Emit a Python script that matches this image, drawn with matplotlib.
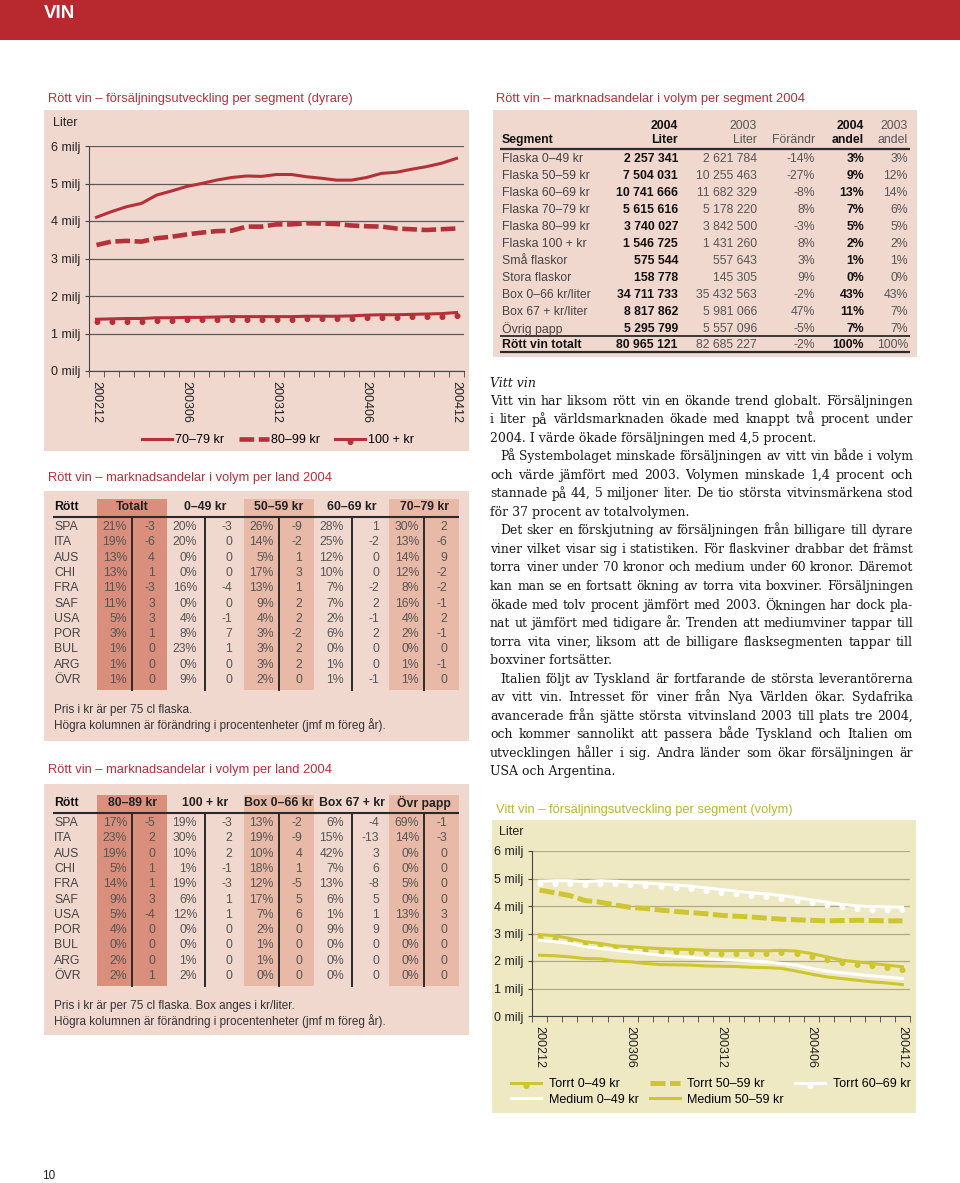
import numpy as np
import matplotlib
matplotlib.use('Agg')
import matplotlib.pyplot as plt
from matplotlib.patches import Rectangle
from matplotlib.path import Path

# ---------------- data ----------------
months = ['200212', '200301', '200302', '200303', '200304', '200305', '200306',
          '200307', '200308', '200309', '200310', '200311', '200312',
          '200401', '200402', '200403', '200404', '200405', '200406',
          '200407', '200408', '200409', '200410', '200411', '200412']

# rött vin, miljoner liter
rott_70_79 = [4.10, 4.25, 4.38, 4.47, 4.69, 4.80, 4.92, 5.00, 5.09, 5.16, 5.20, 5.19,
              5.24, 5.24, 5.18, 5.14, 5.09, 5.09, 5.16, 5.27, 5.30, 5.38, 5.45, 5.54, 5.67]
rott_80_99 = [3.36, 3.45, 3.47, 3.45, 3.54, 3.58, 3.64, 3.69, 3.73, 3.74, 3.85, 3.85,
              3.91, 3.91, 3.94, 3.93, 3.92, 3.88, 3.86, 3.85, 3.80, 3.78, 3.76, 3.78, 3.80]
rott_100 = [1.38, 1.39, 1.40, 1.40, 1.42, 1.42, 1.43, 1.43, 1.44, 1.45, 1.45, 1.45,
            1.45, 1.45, 1.46, 1.46, 1.46, 1.47, 1.49, 1.50, 1.50, 1.51, 1.52, 1.53, 1.56]

# vitt vin, miljoner liter
torrt_0_49 = [2.96, 2.92, 2.82, 2.70, 2.64, 2.55, 2.52, 2.48, 2.45, 2.43, 2.42, 2.39,
              2.38, 2.38, 2.38, 2.37, 2.39, 2.36, 2.27, 2.15, 2.03, 1.97, 1.91, 1.85, 1.79]
torrt_50_59 = [4.58, 4.48, 4.38, 4.20, 4.14, 4.04, 3.95, 3.91, 3.85, 3.80, 3.76, 3.72,
               3.66, 3.63, 3.60, 3.56, 3.52, 3.50, 3.48, 3.46, 3.47, 3.48, 3.47, 3.46, 3.46]
torrt_60_69 = [4.90, 4.92, 4.92, 4.88, 4.92, 4.90, 4.86, 4.84, 4.80, 4.76, 4.72, 4.66,
               4.60, 4.54, 4.48, 4.44, 4.38, 4.30, 4.22, 4.14, 4.06, 4.00, 3.98, 3.97, 3.96]
medium_0_49 = [2.76, 2.70, 2.64, 2.52, 2.46, 2.39, 2.33, 2.27, 2.21, 2.17, 2.13, 2.09,
               2.05, 2.03, 2.00, 1.97, 1.91, 1.85, 1.73, 1.63, 1.57, 1.51, 1.46, 1.41, 1.36]
medium_50_59 = [2.21, 2.19, 2.15, 2.09, 2.08, 2.00, 1.97, 1.91, 1.87, 1.86, 1.85, 1.82,
                1.81, 1.80, 1.77, 1.76, 1.73, 1.63, 1.52, 1.42, 1.36, 1.30, 1.24, 1.20, 1.14]

# marknadsandelar per segment
segments = ['Flaska 0–49 kr', 'Flaska 50–59 kr', 'Flaska 60–69 kr', 'Flaska 70–79 kr',
            'Flaska 80–99 kr', 'Flaska 100 + kr', 'Små flaskor', 'Stora flaskor',
            'Box 0–66 kr/liter', 'Box 67 + kr/liter', 'Övrig papp']
liter_2004 = [2257341, 7504031, 10741666, 5615616, 3740027, 1546725, 575544, 158778,
              34711733, 8817862, 5295799]
liter_2003 = [2621784, 10255463, 11682329, 5178220, 3842500, 1431260, 557643, 145305,
              35432563, 5981066, 5557096]
forandr = [-14, -27, -8, 8, -3, 8, 3, 9, -2, 47, -5]
andel_2004 = [3, 9, 13, 7, 5, 2, 1, 0, 43, 11, 7]
andel_2003 = [3, 12, 14, 6, 5, 2, 1, 0, 43, 7, 7]
totalt_2004, totalt_2003, totalt_forandr = 80965121, 82685227, -2

# marknadsandelar per land
lander = ['SPA', 'ITA', 'AUS', 'CHI', 'FRA', 'SAF', 'USA', 'POR', 'BUL', 'ARG', 'ÖVR']
tab1_heads = ['Totalt', '0–49 kr', '50–59 kr', '60–69 kr', '70–79 kr']
tab1_pct = [[21, 19, 13, 13, 11, 11, 5, 3, 1, 1, 1],
            [20, 20, 0, 0, 16, 0, 4, 8, 23, 0, 9],
            [26, 14, 5, 17, 13, 9, 4, 3, 3, 3, 2],
            [28, 25, 12, 10, 7, 7, 2, 6, 0, 1, 1],
            [30, 13, 14, 12, 8, 16, 4, 2, 0, 1, 1]]
tab1_chg = [[-3, -6, 4, 1, -3, 3, 3, 1, 0, 0, 0],
            [-3, 0, 0, 0, -4, 0, -1, 7, 1, 0, 0],
            [-9, -2, 1, 3, 1, 2, 2, -2, 2, 2, 0],
            [1, -2, 0, 0, -2, 2, -1, 2, 0, 0, -1],
            [2, -6, 9, -2, -2, -1, 2, -1, 0, -1, 0]]
tab2_heads = ['80–89 kr', '100 + kr', 'Box 0–66 kr', 'Box 67 + kr', 'Övr papp']
tab2_pct = [[17, 23, 19, 5, 14, 9, 5, 4, 0, 2, 2],
            [19, 30, 10, 1, 19, 6, 12, 0, 0, 1, 2],
            [13, 19, 10, 18, 12, 17, 7, 2, 1, 1, 0],
            [6, 15, 42, 7, 13, 6, 1, 9, 0, 0, 0],
            [69, 14, 0, 0, 5, 0, 13, 0, 0, 0, 0]]
tab2_chg = [[-5, 2, 0, 1, 1, 3, -4, 0, 0, 0, 1],
            [-3, 2, 2, -1, -3, 1, 1, 0, 0, 0, 0],
            [-2, -9, 4, 1, -5, 5, 6, 0, 0, 0, 0],
            [-4, -13, 3, 6, -8, 5, 1, 9, 0, 0, 0],
            [-1, -3, 0, 0, 0, 0, 3, 0, 0, 0, 0]]

paragraphs = [
    ["Vitt vin har liksom rött vin en ökande trend globalt. Försäljningen",
     "i liter på världsmarknaden ökade med knappt två procent under",
     "2004. I värde ökade försäljningen med 4,5 procent."],
    ["På Systembolaget minskade försäljningen av vitt vin både i volym",
     "och värde jämfört med 2003. Volymen minskade 1,4 procent och",
     "stannade på 44, 5 miljoner liter. De tio största vitvinsmärkena stod",
     "för 37 procent av totalvolymen."],
    ["Det sker en förskjutning av försäljningen från billigare till dyrare",
     "viner vilket visar sig i statistiken. För flaskviner drabbar det främst",
     "torra viner under 70 kronor och medium under 60 kronor. Däremot",
     "kan man se en fortsatt ökning av torra vita boxviner. Försäljningen",
     "ökade med tolv procent jämfört med 2003. Ökningen har dock pla-",
     "nat ut jämfört med tidigare år. Trenden att mediumviner tappar till",
     "torra vita viner, liksom att de billigare flasksegmenten tappar till",
     "boxviner fortsätter."],
    ["Italien följt av Tyskland är fortfarande de största leverantörerna",
     "av vitt vin. Intresset för viner från Nya Världen ökar. Sydafrika",
     "avancerade från sjätte största vitvinsland 2003 till plats tre 2004,",
     "och kommer sannolikt att passera både Tyskland och Italien om",
     "utvecklingen håller i sig. Andra länder som ökar försäljningen är",
     "USA och Argentina."],
]

# ---------------- style ----------------
RED = '#b5313a'
BANNER = '#b8292f'
PINK = '#f1d8cf'
SHADE_DARK = '#d98f7c'
SHADE_MID = '#e9b9a8'
YEL_BG = '#efe9c3'
YEL = '#cdc632'
YEL_TITLE = '#b7b834'

plt.rcParams['font.family'] = ['Liberation Sans', 'DejaVu Sans']
W, H = 960, 1183
fig = plt.figure(figsize=(W / 100, H / 100), dpi=100)

# page axes in pixel coordinates
page = fig.add_axes([0, 0, 1, 1])
page.set_xlim(0, W)
page.set_ylim(H, 0)
page.axis('off')


def px_axes(x0, y0, x1, y1):
    return fig.add_axes([x0 / W, 1 - y1 / H, (x1 - x0) / W, (y1 - y0) / H])


def rect(x0, y0, x1, y1, color):
    page.add_patch(Rectangle((x0, y0), x1 - x0, y1 - y0, color=color, lw=0))


def hline(x0, x1, y, lw=1.3):
    page.plot([x0, x1], [y, y], color='#2a2a2a', lw=lw, solid_capstyle='butt')


# banner
rect(0, 0, W, 40, BANNER)
page.text(44, 13, 'VIN', color='white', fontsize=13.5, fontweight='bold',
          family=['Liberation Sans Narrow', 'Liberation Sans'], va='center')
page.text(42, 1176, '10', fontsize=8.5, color='#222', va='center')

# titles
page.text(48, 99, 'Rött vin – försäljningsutveckling per segment (dyrare)', color=RED,
          fontsize=9.3, va='center')
page.text(496, 99, 'Rött vin – marknadsandelar i volym per segment 2004', color=RED,
          fontsize=9.3, va='center')
page.text(48, 478, 'Rött vin – marknadsandelar i volym per land 2004', color=RED,
          fontsize=9.3, va='center')
page.text(48, 770, 'Rött vin – marknadsandelar i volym per land 2004', color=RED,
          fontsize=9.3, va='center')
page.text(496, 810, 'Vitt vin – försäljningsutveckling per segment (volym)', color=YEL_TITLE,
          fontsize=9.3, va='center')

# panels
rect(44, 110, 469, 451, PINK)
rect(493, 110, 917, 357, PINK)
rect(44, 491, 469, 741, PINK)
rect(44, 784, 469, 1035, PINK)
rect(492, 820, 916, 1113, YEL_BG)

# marker: small dot hanging just under the line
dot_below = Path.circle((0, -0.45), 0.4)


def style_chart(ax, ylabel_x, ylabel_y, gridcolor):
    ax.set_facecolor('none')
    ax.set_xlim(-0.5, len(months) - 0.5)
    ax.set_ylim(0, 6)
    ax.set_yticks(range(7))
    ax.set_yticklabels([f'{v} milj' for v in range(7)])
    ax.grid(axis='y', color=gridcolor, lw=0.9)
    ax.set_axisbelow(True)
    for s in ['top', 'right']:
        ax.spines[s].set_visible(False)
    for s in ['left', 'bottom']:
        ax.spines[s].set_color('#444')
    ax.set_xticks(range(0, len(months), 6))
    ax.set_xticklabels(months[::6], rotation=-90)
    ax.set_xticks(np.arange(-0.5, len(months)), minor=True)
    ax.tick_params(axis='x', which='major', length=0, pad=7, labelsize=9, labelcolor='#222')
    ax.tick_params(axis='x', which='minor', length=4, color='#444')
    ax.tick_params(axis='y', length=3, color='#444', pad=3, labelsize=9, labelcolor='#222')
    page.text(ylabel_x, ylabel_y, 'Liter', fontsize=9, color='#222', va='center')


# ---- red chart ----
ax1 = px_axes(89, 146, 464, 371)
x = np.arange(len(months))
l1, = ax1.plot(x, rott_70_79, color=RED, lw=2.2, label='70–79 kr')
l2, = ax1.plot(x, rott_80_99, color=RED, lw=3.3, dashes=(3.2, 1.0), label='80–99 kr')
l3, = ax1.plot(x, rott_100, color=RED, lw=2.2, marker=dot_below, ms=7, label='100 + kr')
style_chart(ax1, 53, 123, '#5a5a5a')
fig.legend(handles=[l1, l2, l3], loc='center', bbox_to_anchor=(278 / W, 1 - 440 / H),
           ncol=3, frameon=False, fontsize=9, handlelength=2.4, handletextpad=0.2,
           columnspacing=1.2)

# ---- yellow chart ----
ax2 = px_axes(532, 851, 910, 1016)
w1, = ax2.plot(x, torrt_0_49, color=YEL, lw=2.2, marker=dot_below, ms=7, label='Torrt 0–49 kr')
w2, = ax2.plot(x, torrt_50_59, color=YEL, lw=3.6, dashes=(3.0, 0.9), label='Torrt 50–59 kr')
w3, = ax2.plot(x, torrt_60_69, color='white', lw=2.2, marker=dot_below, ms=7,
               label='Torrt 60–69 kr')
w4, = ax2.plot(x, medium_0_49, color='white', lw=2.2, label='Medium 0–49 kr')
w5, = ax2.plot(x, medium_50_59, color=YEL, lw=2.2, label='Medium 50–59 kr')
style_chart(ax2, 499, 832, '#b2aa84')
fig.legend(handles=[w1, w4, w2, w5, w3], loc='center', bbox_to_anchor=(711 / W, 1 - 1092 / H),
           ncol=3, frameon=False, fontsize=9, handlelength=2.4, handletextpad=0.6,
           columnspacing=0.9, labelspacing=0.25)


# ---- segment table ----
def fmt_int(v):
    return f'{v:,}'.replace(',', ' ')


cols_r = [678, 757, 815, 864, 908]
head1 = ['2004', '2003', '', '2004', '2003']
head2 = ['Liter', 'Liter', 'Förändr', 'andel', 'andel']
bold_col = [True, False, False, True, False]
fs = 8.8
for c, h1, h2, b in zip(cols_r, head1, head2, bold_col):
    w = 'bold' if b else 'normal'
    col = '#111' if b else '#555'
    page.text(c, 126, h1, ha='right', va='center', fontsize=fs, fontweight=w, color=col)
    page.text(c, 140, h2, ha='right', va='center', fontsize=fs, fontweight=w, color=col)
page.text(502, 140, 'Segment', va='center', fontsize=fs, fontweight='bold', color='#111')
hline(500, 910, 149, 1.6)
for i, seg in enumerate(segments):
    y = 159 + 17 * i
    vals = [fmt_int(liter_2004[i]), fmt_int(liter_2003[i]), f'{forandr[i]}%',
            f'{andel_2004[i]}%', f'{andel_2003[i]}%']
    page.text(502, y, seg, va='center', fontsize=fs, color='#444')
    for c, v, b in zip(cols_r, vals, bold_col):
        page.text(c, y, v, ha='right', va='center', fontsize=fs,
                  fontweight='bold' if b else 'normal', color='#111' if b else '#555')
hline(500, 910, 336, 1.3)
tot = [fmt_int(totalt_2004), fmt_int(totalt_2003), f'{totalt_forandr}%', '100%', '100%']
page.text(502, 345, 'Rött vin totalt', va='center', fontsize=fs, fontweight='bold', color='#111')
for c, v, b in zip(cols_r, tot, bold_col):
    page.text(c, 345, v, ha='right', va='center', fontsize=fs,
              fontweight='bold' if b else 'normal', color='#111' if b else '#555')
hline(500, 910, 352, 1.6)


# ---- country tables ----
def country_table(top, heads, pct, chg, notes):
    lefts = [97, 170, 244, 317, 389]
    shades = [SHADE_DARK, None, SHADE_MID, None, SHADE_MID]
    row0 = top + 20
    bottom = row0 + 15.3 * (len(lander) - 1) + 10
    for lft, sh in zip(lefts, shades):
        if sh:
            rect(lft, top - 8, lft + 70, bottom, sh)
    page.text(54, top, 'Rött', va='center', fontsize=8.8, fontweight='bold', color='#111')
    hline(53, 459, top + 10, 1.5)
    for g, (lft, sh) in enumerate(zip(lefts, shades)):
        d = lft + 35
        page.text(d, top, heads[g], ha='center', va='center', fontsize=8.8,
                  fontweight='bold', color='#222')
        page.plot([d, d], [top + 10, bottom], color='#2a2a2a', lw=1.4)
        off_p, off_c = (5, 23) if sh else (8, 27)
        for i in range(len(lander)):
            y = row0 + 15.3 * i
            page.text(d - off_p, y, f'{pct[g][i]}%', ha='right', va='center',
                      fontsize=8.8, color='#555')
            page.text(d + off_c, y, f'{chg[g][i]}', ha='right', va='center',
                      fontsize=8.8, color='#555')
    for i, land in enumerate(lander):
        page.text(54, row0 + 15.3 * i, land, va='center', fontsize=8.8, color='#444')
    for k, note in enumerate(notes):
        page.text(54, bottom + 20 + 15 * k, note, va='center', fontsize=8.5, color='#333')


note2 = 'Högra kolumnen är förändring i procentenheter (jmf m föreg år).'
country_table(507, tab1_heads, tab1_pct, tab1_chg, ['Pris i kr är per 75 cl flaska.', note2])
country_table(803, tab2_heads, tab2_pct, tab2_chg,
              ['Pris i kr är per 75 cl flaska. Box anges i kr/liter.', note2])

# ---- body text (justified) ----
renderer = fig.canvas.get_renderer()
text_left, text_right = 490, 913


def text_width(s, size):
    t = page.text(0, 0, s, family=['DejaVu Serif'], fontsize=size)
    wd = t.get_window_extent(renderer).width
    t.remove()
    return wd


# base size: most full lines fit the column; wider lines are set a touch smaller
full_lines = [ln for para in paragraphs for ln in para[:-1]]
nat = sorted(text_width(ln, 10) for ln in full_lines)
base = 10 * (text_right - text_left - 3) / nat[int(len(nat) * 0.6)]
serif = dict(family=['DejaVu Serif'], color='#1a1a1a', va='center')

page.text(490, 383, 'Vitt vin', style='italic', fontsize=base, **serif)
y = 401
for p, para in enumerate(paragraphs):
    for i, line in enumerate(para):
        x0 = text_left + (10 if p > 0 and i == 0 else 0)
        if i == len(para) - 1:
            page.text(x0, y, line, fontsize=base, **serif)
        else:
            full = text_width(line, base)
            size = min(base, base * (text_right - x0 - 2) / full)
            words = line.split(' ')
            widths = [text_width(wd, size) for wd in words]
            gap = (text_right - x0 - sum(widths)) / (len(words) - 1)
            xx = x0
            for wd, wi in zip(words, widths):
                page.text(xx, y, wd, fontsize=size, **serif)
                xx += wi + gap
        y += 18.55

fig.savefig('out.png', dpi=100)
